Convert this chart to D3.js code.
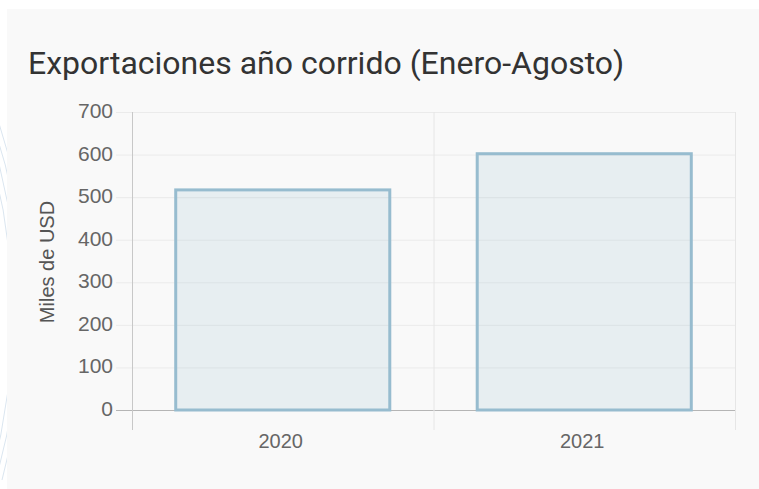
<!DOCTYPE html>
<html>
<head>
<meta charset="utf-8">
<script src="https://cdn.jsdelivr.net/npm/d3@7"></script>
<style>
  body { margin: 0; background: #fff; font-family: Roboto, "Open Sans", sans-serif; }
  svg { display: block; }
  .tick-label { font-family: "Liberation Sans", Arial, sans-serif; }
</style>
</head>
<body>
<svg id="chart" width="759" height="489"></svg>
<script>
// chart data
const years = ['2020', '2021'];
const exportValues = [517, 602];
const yTicks = [0, 100, 200, 300, 400, 500, 600, 700];

const svg = d3.select('#chart');

// faint decorative arcs on the left edge
const arcs = svg.append('g').attr('fill', 'none').attr('stroke', '#dbe6f0').attr('stroke-width', 1);
[0, 6, 12, 18].forEach(function(o) {
  arcs.append('path')
    .attr('d', 'M' + (-20 + o) + ',120 Q' + (40 + o) + ',300 ' + (-10 + o) + ',480');
});

// panel
svg.append('rect').attr('x', 7).attr('y', 9).attr('width', 752).attr('height', 480).attr('fill', '#f9f9f9');

svg.append('text')
  .attr('x', 28).attr('y', 74)
  .attr('font-size', 32).attr('fill', '#333')
  .text('Exportaciones año corrido (Enero-Agosto)');

const plotLeft = 132, plotRight = 735, plotTop = 112, plotBottom = 410;

const x = d3.scaleBand().domain(years).range([plotLeft, plotRight]);
const y = d3.scaleLinear().domain([0, 700]).range([plotBottom, plotTop]);

// horizontal grid
svg.append('g').selectAll('line').data(yTicks).enter().append('line')
  .attr('x1', plotLeft - 16).attr('x2', plotRight)
  .attr('y1', d => y(d) + 0.5).attr('y2', d => y(d) + 0.5)
  .attr('stroke', d => d === 0 ? '#b5b5b5' : '#ebebeb');

// vertical grid
const xEdges = [plotLeft].concat(years.map(d => x(d) + x.bandwidth()));
svg.append('g').selectAll('line').data(xEdges).enter().append('line')
  .attr('x1', d => d + 0.5).attr('x2', d => d + 0.5)
  .attr('y1', plotTop).attr('y2', plotBottom + 20)
  .attr('stroke', (d, i) => i === 0 ? '#c8c8c8' : '#e6e6e6');

// y tick labels
svg.append('g').selectAll('text').data(yTicks).enter().append('text')
  .attr('class', 'tick-label')
  .attr('x', 113).attr('y', d => y(d) + 6)
  .attr('text-anchor', 'end')
  .attr('font-size', 21).attr('fill', '#666')
  .text(d => d);

// x labels
svg.append('g').selectAll('text').data(years).enter().append('text')
  .attr('class', 'tick-label')
  .attr('x', d => x(d) + x.bandwidth() / 2 - 2).attr('y', 448)
  .attr('text-anchor', 'middle')
  .attr('font-size', 20).attr('fill', '#666')
  .text(d => d);

// y axis title
svg.append('text')
  .attr('class', 'tick-label')
  .attr('transform', 'translate(54,262) rotate(-90)')
  .attr('text-anchor', 'middle')
  .attr('font-size', 20).attr('fill', '#555')
  .text('Miles de USD');

// bars
const bw = x.bandwidth() * 0.71;
svg.append('g').selectAll('rect').data(years).enter().append('rect')
  .attr('x', d => x(d) + (x.bandwidth() - bw) / 2)
  .attr('y', (d, i) => y(exportValues[i]))
  .attr('width', bw)
  .attr('height', (d, i) => y(0) - y(exportValues[i]))
  .attr('fill', 'rgba(160,195,212,0.2)')
  .attr('stroke', '#97bccf')
  .attr('stroke-width', 3);
</script>
</body>
</html>
